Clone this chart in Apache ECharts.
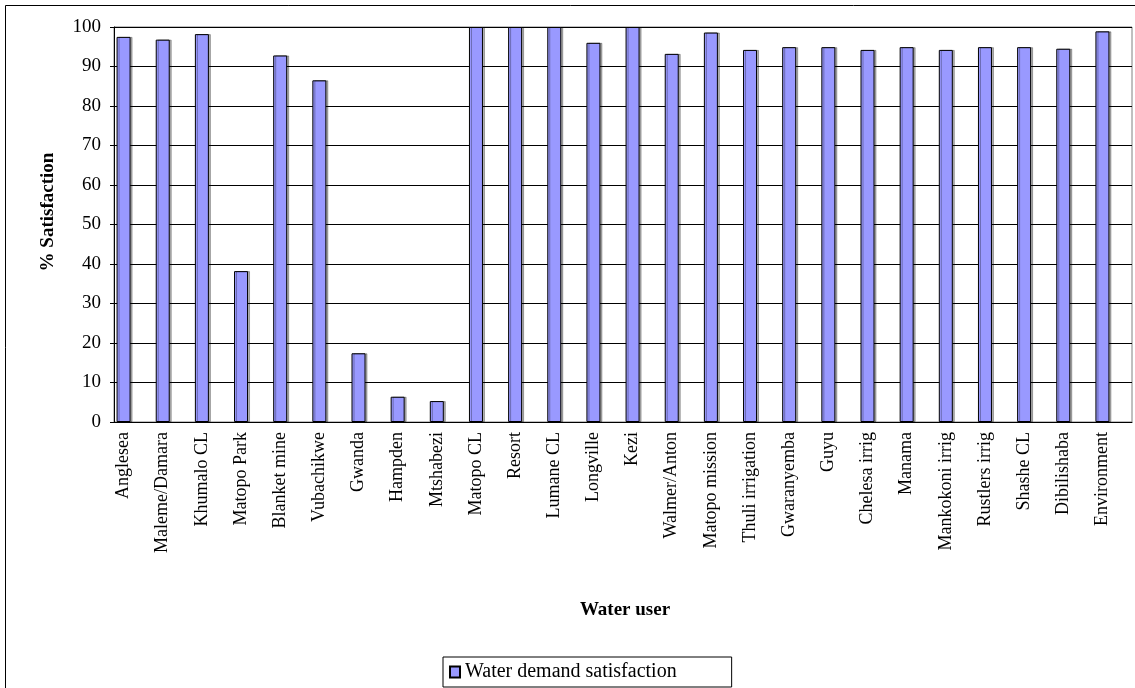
<!DOCTYPE html>
<html>
<head>
<meta charset="utf-8">
<script src="https://cdn.jsdelivr.net/npm/echarts@6/dist/echarts.min.js"></script>
<style>
html,body{margin:0;padding:0;background:#fff;}
#chart{width:1135px;height:688px;}
</style>
</head>
<body>
<div id="chart"></div>
<script>
const categories = ['Anglesea','Maleme/Damara','Khumalo CL','Matopo Park','Blanket mine','Vubachikwe','Gwanda','Hampden','Mtshabezi','Matopo CL','Resort','Lumane CL','Longville','Kezi','Walmer/Anton','Matopo mission','Thuli irrigation','Gwaranyemba','Guyu','Chelesa irrig','Manama','Mankokoni irrig','Rustlers irrig','Shashe CL','Dibilishaba','Environment'];
const satisfaction = [97.5,96.8,98.2,38.2,92.8,86.5,17.4,6.4,5.3,100,100,100,96.0,100,93.2,98.6,94.2,94.9,94.9,94.2,94.9,94.2,94.9,94.9,94.5,98.9];
const seriesName = 'Water demand satisfaction';
const yAxisTitle = '% Satisfaction';
const xAxisTitle = 'Water user';

const FONT = '"Liberation Serif", "Times New Roman", serif';
const chart = echarts.init(document.getElementById('chart'), null, {renderer:'canvas'});
chart.setOption({
  animation:false,
  backgroundColor:'#fff',
  grid:[
    {left:114, right:3, top:27, bottom:266, show:true, borderColor:'#808080', borderWidth:1, backgroundColor:'transparent'},
    {left:104, right:13, top:27, bottom:266}
  ],
  xAxis:[
    {gridIndex:0, type:'category', data:categories, axisLine:{lineStyle:{color:'#000',width:1}}, axisTick:{show:false}, axisLabel:{show:false}},
    {gridIndex:1, type:'category', data:categories, axisLine:{show:false}, axisTick:{show:false},
     axisLabel:{rotate:90, interval:0, margin:10, color:'#000', fontFamily:FONT, fontSize:18}}
  ],
  yAxis:[
    {gridIndex:0, type:'value', min:0, max:100, interval:10,
     axisLine:{show:true, lineStyle:{color:'#000',width:1}},
     axisTick:{show:true, inside:false, length:4, lineStyle:{color:'#000'}},
     axisLabel:{color:'#000', fontFamily:FONT, fontSize:19, margin:13},
     splitLine:{show:true, lineStyle:{color:'#000', width:1}}},
    {gridIndex:1, type:'value', min:0, max:100, interval:10, show:false, splitLine:{show:false}}
  ],
  legend:{
    data:[seriesName], left:443, top:657, orient:'horizontal',
    borderColor:'#000', borderWidth:1, padding:[5,55,5,6],
    itemWidth:10, itemHeight:11, itemGap:5, icon:'rect',
    textStyle:{color:'#000', fontFamily:FONT, fontSize:20}
  },
  graphic:[
    {type:'rect', silent:true, z:-10, shape:{x:5.5, y:5.5, width:1200, height:800}, style:{fill:'none', stroke:'#000', lineWidth:1}},
    {type:'text', x:48, y:212, rotation:Math.PI/2, style:{text:yAxisTitle, fill:'#000', font:'bold 19px ' + FONT, align:'center', verticalAlign:'middle'}},
    {type:'text', x:625, y:610, style:{text:xAxisTitle, fill:'#000', font:'bold 19px ' + FONT, align:'center', verticalAlign:'middle'}}
  ],
  series:[{
    name:seriesName, type:'bar', xAxisIndex:1, yAxisIndex:1, data:satisfaction, barWidth:14,
    itemStyle:{color:'#9999ff', borderColor:'#000', borderWidth:1, shadowColor:'rgba(0,0,0,0.3)', shadowOffsetX:2, shadowOffsetY:0, shadowBlur:0}
  }]
});
</script>
</body>
</html>
